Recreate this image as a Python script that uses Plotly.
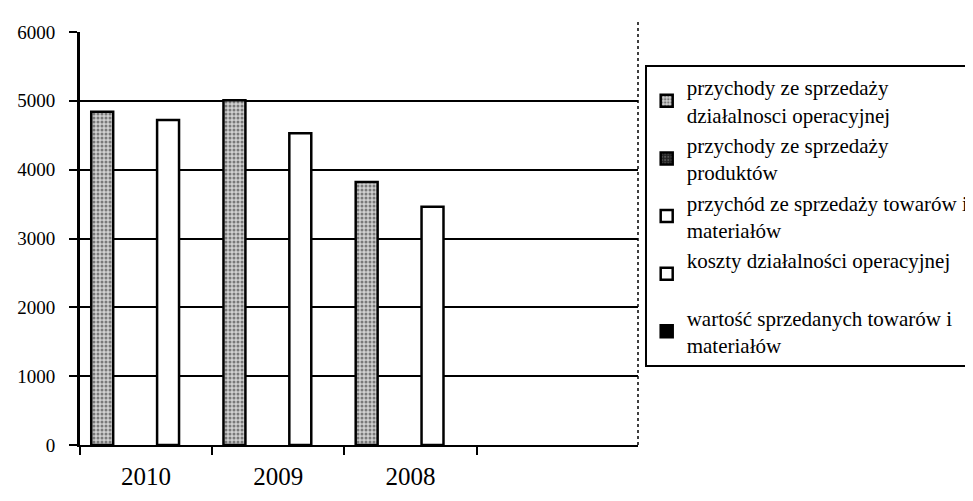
import plotly.graph_objects as go

years = ["2010", "2009", "2008"]
series_names = [
    "przychody ze sprzedaży<br>działalnosci operacyjnej",
    "przychody ze sprzedaży<br>produktów",
    "przychód ze sprzedaży towarów i<br>materiałów",
    "koszty działalności operacyjnej<br>\u00a0",
    "wartość sprzedanych towarów i<br>materiałów",
]
przychody_dzialalnosci = [4840, 5010, 3820]
przychody_produktow = [None, None, None]
przychod_towarow = [None, None, None]
koszty_dzialalnosci = [4720, 4530, 3460]
wartosc_towarow = [None, None, None]
y_ticks = [0, 1000, 2000, 3000, 4000, 5000, 6000]

values = [przychody_dzialalnosci, przychody_produktow, przychod_towarow,
          koszty_dzialalnosci, wartosc_towarow]
styles = [
    dict(color="#d0d0d0", pattern=dict(shape=".", fgcolor="#222", bgcolor="#d0d0d0", size=4, solidity=0.45)),
    dict(color="#333", pattern=dict(shape=".", fgcolor="#888", bgcolor="#222", size=4, solidity=0.3)),
    dict(color="white"),
    dict(color="white"),
    dict(color="black"),
]

fig = go.Figure()
for name, vals, st in zip(series_names, values, styles):
    fig.add_trace(go.Bar(
        x=years, y=vals, name=name,
        marker=dict(**st, line=dict(color="black", width=2.5)),
    ))

serif = "Liberation Serif"
fig.update_layout(
    width=965, height=493,
    margin=dict(l=72, r=335, t=24, b=56, autoexpand=False),
    paper_bgcolor="white", plot_bgcolor="white",
    barmode="group", bargap=0.17, bargroupgap=0,
    font=dict(family=serif, color="black"),
    showlegend=True,
    legend=dict(
        x=1.012, y=0.92, xanchor="left", yanchor="top",
        bordercolor="black", borderwidth=2,
        font=dict(family=serif, size=21, color="black"),
        tracegroupgap=6, itemwidth=30,
        traceorder="normal",
    ),
)
fig.update_xaxes(
    type="category", range=[-0.5, 3.72],
    showline=True, linecolor="black", linewidth=2, mirror=False,
    showgrid=False, ticks="outside", tickson="boundaries",
    ticklen=8, tickwidth=2, tickcolor="black",
    tickfont=dict(family=serif, size=25, color="black"),
    ticklabelstandoff=8,
)
fig.update_yaxes(
    range=[0, 6000], tickvals=y_ticks,
    showline=True, linecolor="black", linewidth=3,
    showgrid=True, gridcolor="black", gridwidth=2,
    ticks="outside", ticklen=8, tickwidth=2, tickcolor="black",
    tickfont=dict(family=serif, size=19, color="black"),
    ticklabelstandoff=10,
    zeroline=False,
)
fig.add_shape(type="line", xref="paper", yref="paper", x0=1, x1=1, y0=0, y1=1.03,
              line=dict(color="black", width=1.5, dash="dot"))
fig.write_html("out.html")
